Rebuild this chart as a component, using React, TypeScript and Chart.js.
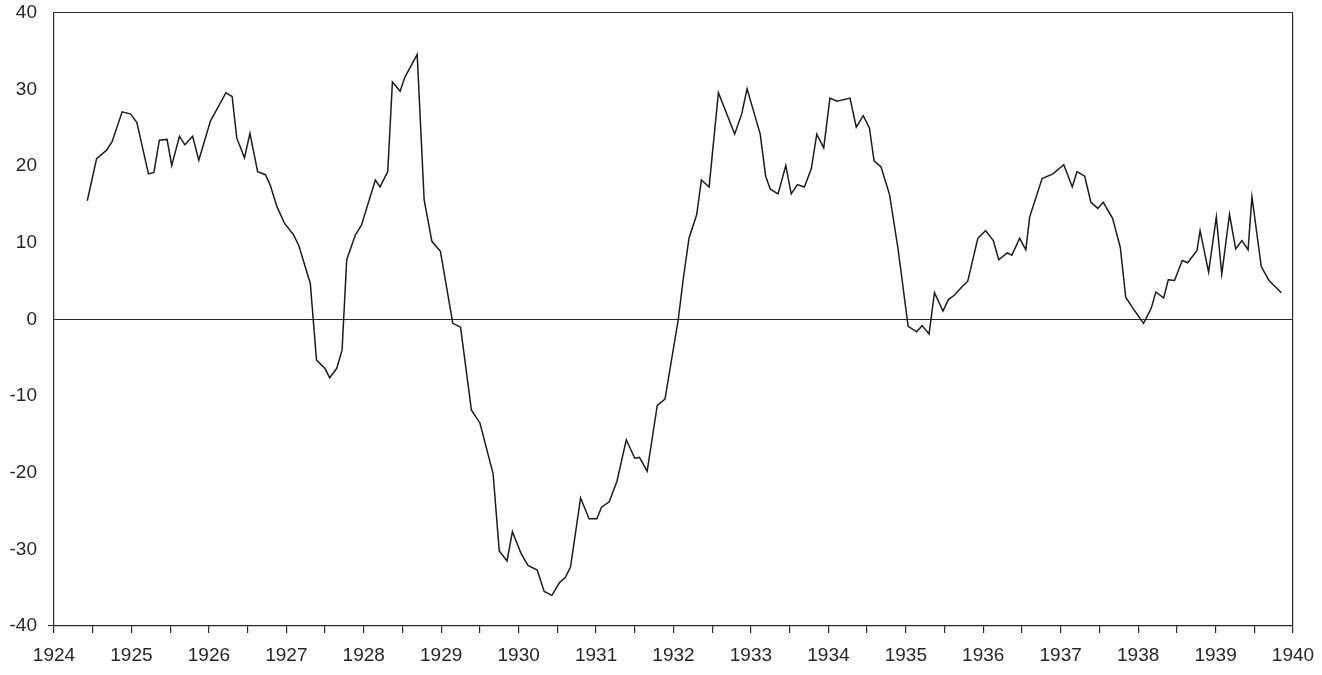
import { useEffect, useRef } from 'react';
import { Chart, registerables } from 'chart.js';

Chart.register(...registerables);

// Decimal-year positions of the series' vertices
const years: number[] = [
  1924.43, 1924.55, 1924.68, 1924.75, 1924.88, 1924.99,
  1925.07, 1925.22, 1925.29, 1925.36, 1925.46, 1925.52, 1925.62, 1925.69, 1925.79, 1925.87,
  1926.02, 1926.22, 1926.30, 1926.36, 1926.46, 1926.53, 1926.63, 1926.73, 1926.79, 1926.88, 1926.98,
  1927.09, 1927.16, 1927.31, 1927.39, 1927.50, 1927.56, 1927.65, 1927.72, 1927.78, 1927.89, 1927.97,
  1928.15, 1928.21, 1928.31, 1928.37, 1928.47, 1928.53, 1928.69, 1928.78, 1928.88, 1928.99,
  1929.15, 1929.25, 1929.39, 1929.50, 1929.67, 1929.75, 1929.85, 1929.92,
  1930.03, 1930.12, 1930.24, 1930.33, 1930.43, 1930.53, 1930.60, 1930.67, 1930.80, 1930.91,
  1931.01, 1931.07, 1931.17, 1931.27, 1931.39, 1931.50, 1931.56, 1931.66, 1931.79, 1931.89,
  1932.06, 1932.13, 1932.20, 1932.30, 1932.36, 1932.46, 1932.58, 1932.79, 1932.88, 1932.95,
  1933.12, 1933.19, 1933.25, 1933.35, 1933.45, 1933.52, 1933.60, 1933.69, 1933.78, 1933.85, 1933.94,
  1934.02, 1934.11, 1934.28, 1934.36, 1934.45, 1934.53, 1934.59, 1934.68, 1934.79, 1934.90,
  1935.03, 1935.14, 1935.21, 1935.30, 1935.37, 1935.48, 1935.55, 1935.63, 1935.72, 1935.80, 1935.93,
  1936.03, 1936.13, 1936.20, 1936.31, 1936.37, 1936.47, 1936.55, 1936.60, 1936.76, 1936.90,
  1937.04, 1937.15, 1937.21, 1937.31, 1937.39, 1937.48, 1937.55, 1937.67, 1937.77, 1937.84, 1937.95,
  1938.07, 1938.17, 1938.23, 1938.33, 1938.39, 1938.47, 1938.57, 1938.64, 1938.76, 1938.80, 1938.91,
  1939.01, 1939.08, 1939.18, 1939.26, 1939.34, 1939.42, 1939.47, 1939.59, 1939.69, 1939.85,
];

// Series values at those positions
const values: number[] = [
  15.5, 21.0, 22.1, 23.2, 27.1, 26.8,
  25.7, 19.0, 19.2, 23.4, 23.5, 20.1, 23.9, 22.8, 23.9, 20.8,
  25.9, 29.6, 29.1, 23.7, 21.1, 24.3, 19.3, 18.9, 17.6, 14.7, 12.5,
  11.1, 9.7, 4.7, -5.3, -6.4, -7.6, -6.4, -4.0, 7.8, 11.0, 12.3,
  18.2, 17.3, 19.3, 31.0, 29.8, 31.6, 34.6, 15.6, 10.2, 8.9,
  -0.5, -1.0, -11.8, -13.5, -20.1, -30.2, -31.5, -27.7,
  -30.5, -32.1, -32.7, -35.5, -36.0, -34.3, -33.7, -32.3, -23.3, -26.0,
  -26.0, -24.5, -23.8, -21.1, -15.7, -18.1, -18.0, -19.8, -11.2, -10.4,
  -0.1, 5.6, 10.6, 13.7, 18.2, 17.3, 29.6, 24.2, 26.8, 30.1,
  24.2, 18.7, 17.0, 16.4, 20.1, 16.4, 17.6, 17.3, 19.7, 24.2, 22.4,
  28.9, 28.5, 28.9, 25.1, 26.6, 25.0, 20.7, 19.9, 16.3, 9.2,
  -0.9, -1.6, -0.8, -1.9, 3.5, 1.1, 2.6, 3.2, 4.2, 5.0, 10.6,
  11.6, 10.3, 7.8, 8.7, 8.4, 10.6, 9.1, 13.4, 18.4, 19.0,
  20.2, 17.3, 19.3, 18.7, 15.3, 14.5, 15.3, 13.2, 9.4, 2.9, 1.2,
  -0.5, 1.5, 3.6, 2.8, 5.2, 5.1, 7.7, 7.4, 9.0, 11.6, 6.2,
  13.4, 5.9, 13.7, 9.2, 10.3, 9.1, 16.0, 6.9, 5.1, 3.5,
];

const xMin = 1924;
const xMax = 1940;
const yMin = -40;
const yMax = 40;
const yStep = 10;
const xStep = 0.5;

const INK = '#2a2a2a';
const TRANSPARENT = 'rgba(0,0,0,0)';
const FONT = '"Liberation Sans", Arial, Helvetica, sans-serif';

export default function App() {
  const canvasRef = useRef<HTMLCanvasElement>(null);

  useEffect(() => {
    document.body.style.margin = '0';
    const canvas = canvasRef.current;
    if (!canvas) return;
    const n = Math.min(years.length, values.length);
    const points = [];
    for (let i = 0; i < n; i++) points.push({ x: years[i], y: values[i] });

    const chart = new Chart(canvas, {
      type: 'line',
      data: {
        datasets: [
          {
            data: points,
            borderColor: '#1c1c1c',
            borderWidth: 1.5,
            pointRadius: 0,
            tension: 0,
            fill: false,
          },
        ],
      },
      options: {
        animation: false,
        responsive: true,
        maintainAspectRatio: false,
        layout: { padding: { top: 13, right: 29, left: 0, bottom: 0 }, autoPadding: false },
        plugins: {
          legend: { display: false },
          tooltip: { enabled: false },
        },
        scales: {
          x: {
            type: 'linear',
            min: xMin,
            max: xMax,
            afterFit: (s: any) => {
              s.height = 49;
              s.paddingLeft = 0;
              s.paddingRight = 0;
            },
            border: { display: true, color: INK, width: 1.2 },
            grid: {
              color: (c: any) => (c.tick && c.tick.value === xMax ? INK : TRANSPARENT),
              tickColor: INK,
              tickLength: 7,
              lineWidth: 1.2,
            },
            ticks: {
              stepSize: xStep,
              autoSkip: false,
              maxRotation: 0,
              minRotation: 0,
              padding: 11,
              color: '#262626',
              font: { family: FONT, size: 19 },
              callback: (v: any) => (Number.isInteger(v) ? String(v) : ''),
            },
          },
          y: {
            type: 'linear',
            min: yMin,
            max: yMax,
            afterFit: (s: any) => {
              s.width = 54;
              s.paddingTop = 0;
              s.paddingBottom = 0;
            },
            border: { display: true, color: INK, width: 1.2 },
            grid: {
              color: (c: any) =>
                c.tick && (c.tick.value === 0 || c.tick.value === yMax) ? INK : TRANSPARENT,
              tickColor: (c: any) => (c.tick && c.tick.value === yMin ? INK : TRANSPARENT),
              tickLength: 6,
              lineWidth: 1.1,
            },
            ticks: {
              stepSize: yStep,
              padding: 11,
              color: '#262626',
              font: { family: FONT, size: 19 },
              callback: (v: any) => String(v),
            },
          },
        },
      },
    });

    return () => chart.destroy();
  }, []);

  return (
    <div style={{ position: 'relative', width: 1322, height: 675, background: '#fff' }}>
      <canvas ref={canvasRef} />
    </div>
  );
}
